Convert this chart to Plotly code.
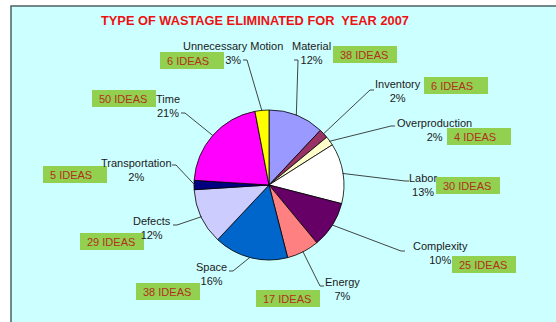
import math
import plotly.graph_objects as go

# ---------------- data ----------------
categories = ["Material", "Inventory", "Overproduction", "Labor", "Complexity",
              "Energy", "Space", "Defects", "Transportation", "Time",
              "Unnecessary Motion"]
percent = [12, 2, 2, 13, 10, 7, 16, 12, 2, 21, 3]
ideas = [38, 6, 4, 30, 25, 17, 38, 29, 5, 50, 6]
title_text = "TYPE OF WASTAGE ELIMINATED FOR  YEAR 2007"

# ---------------- styles / layout ----------------
colors = ["#9999FF", "#993366", "#FFFFCC", "#FFFFFF", "#660066", "#FF8080",
          "#0066CC", "#CCCCFF", "#000080", "#FF00FF", "#FFFF00"]

W, H = 556, 322
CX, CY, R = 269, 185, 75  # pie center / radius in pixels

# label centre (x, y) in pixels
label_pos = {
    "Material": (311, 53), "Inventory": (398, 91), "Overproduction": (434, 130),
    "Labor": (423, 185), "Complexity": (440, 253), "Energy": (342, 289),
    "Space": (211, 274), "Defects": (152, 228), "Transportation": (136, 170),
    "Time": (168, 106), "Unnecessary Motion": (233, 53),
}
# leader-line start point next to each label
anchor_pos = {
    "Material": (294, 60), "Inventory": (374, 90), "Overproduction": (395, 126),
    "Labor": (409, 181), "Complexity": (405, 251), "Energy": (324, 286),
    "Space": (229, 271), "Defects": (173, 225), "Transportation": (172, 165),
    "Time": (181, 113), "Unnecessary Motion": (243, 60),
}
# IDEAS boxes: left, top (pixels)
box_pos = {
    "Material": (333, 46), "Inventory": (424, 77), "Overproduction": (447, 128),
    "Labor": (436, 177), "Complexity": (452, 256), "Energy": (256, 290),
    "Space": (136, 283), "Defects": (80, 233), "Transportation": (43, 166),
    "Time": (92, 90), "Unnecessary Motion": (160, 52),
}
BOX_W, BOX_H = 64, 17

fig = go.Figure()
fig.add_trace(go.Pie(
    labels=categories, values=percent, sort=False, direction="clockwise",
    rotation=0, textinfo="none", hoverinfo="label+percent",
    marker=dict(colors=colors, line=dict(color="#000000", width=0.8)),
    domain=dict(x=[(CX - R) / W, (CX + R) / W],
                y=[1 - (CY + R) / H, 1 - (CY - R) / H]),
    showlegend=False,
))
# hidden pixel-space axes for overlays
fig.add_trace(go.Scatter(x=[0, W], y=[0, H], mode="markers",
                         marker=dict(opacity=0), hoverinfo="skip", showlegend=False))

shapes = []
annotations = []
# background frame
shapes.append(dict(type="rect", xref="x", yref="y", x0=11, y0=6, x1=W + 5, y1=H + 5,
                   fillcolor="#CCFFFF", line=dict(color="#4A6262", width=1.5),
                   layer="below"))

total = sum(percent)
cum = 0
for cat, p, n in zip(categories, percent, ideas):
    mid = (cum + p / 2) / total * 2 * math.pi
    cum += p
    ex = CX + R * 0.99 * math.sin(mid)
    ey = CY - R * 0.99 * math.cos(mid)
    ax, ay = anchor_pos[cat]
    step = 4 if ex > ax else -4
    shapes.append(dict(type="path", xref="x", yref="y",
                       path=f"M {ax},{ay} L {ax + step},{ay} L {ex:.1f},{ey:.1f}",
                       line=dict(color="#303030", width=0.9)))
    lx, ly = label_pos[cat]
    annotations.append(dict(x=lx, y=ly, xref="x", yref="y", showarrow=False,
                            text=f"{cat}<br>{p}%", align="center",
                            font=dict(family="Liberation Sans, Arial", size=11,
                                      color="#1A1A1A")))
    bx, by = box_pos[cat]
    shapes.append(dict(type="rect", xref="x", yref="y", x0=bx, y0=by,
                       x1=bx + BOX_W, y1=by + BOX_H, fillcolor="#92D050",
                       line=dict(width=0)))
    annotations.append(dict(x=bx + 5, y=by + BOX_H / 2, xref="x", yref="y",
                            xanchor="left", yanchor="middle", showarrow=False,
                            text=f"{n} IDEAS",
                            font=dict(family="Liberation Sans, Arial", size=11,
                                      color="#B0301E")))

annotations.append(dict(x=255, y=20, xref="x", yref="y", showarrow=False,
                        text=f"<b>{title_text}</b>",
                        font=dict(family="Liberation Sans, Arial", size=12.8,
                                  color="#EE1111")))

fig.update_layout(
    width=W, height=H, margin=dict(l=0, r=0, t=0, b=0),
    paper_bgcolor="#FFFFFF", plot_bgcolor="rgba(0,0,0,0)",
    xaxis=dict(range=[0, W], visible=False, fixedrange=True),
    yaxis=dict(range=[H, 0], visible=False, fixedrange=True),
    shapes=shapes, annotations=annotations,
)
fig.write_html("out.html")
